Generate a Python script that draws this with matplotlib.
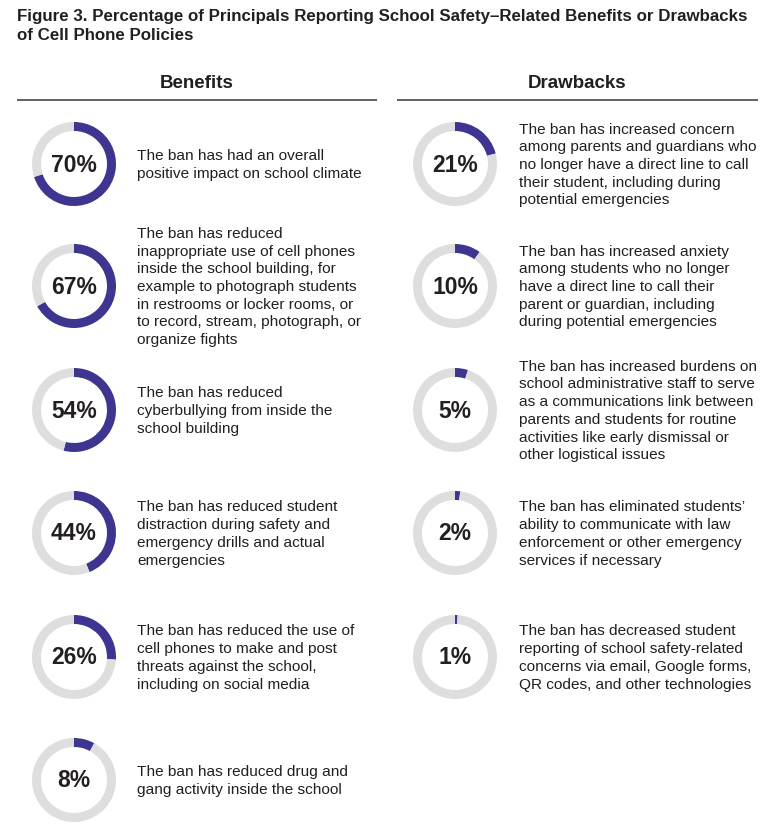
import matplotlib
matplotlib.use("Agg")
import matplotlib.pyplot as plt
from matplotlib import font_manager

W, H = 782, 828
PURPLE = "#3D3590"
GRAY = "#DEDEDE"
TXT = "#231F20"

benefit_values = [70, 67, 54, 44, 26, 8]
benefit_labels = [
    "The ban has had an overall\npositive impact on school climate",
    "The ban has reduced\ninappropriate use of cell phones\ninside the school building, for\nexample to photograph students\nin restrooms or locker rooms, or\nto record, stream, photograph, or\norganize fights",
    "The ban has reduced\ncyberbullying from inside the\nschool building",
    "The ban has reduced student\ndistraction during safety and\nemergency drills and actual\nemergencies",
    "The ban has reduced the use of\ncell phones to make and post\nthreats against the school,\nincluding on social media",
    "The ban has reduced drug and\ngang activity inside the school",
]
drawback_values = [21, 10, 5, 2, 1]
drawback_labels = [
    "The ban has increased concern\namong parents and guardians who\nno longer have a direct line to call\ntheir student, including during\npotential emergencies",
    "The ban has increased anxiety\namong students who no longer\nhave a direct line to call their\nparent or guardian, including\nduring potential emergencies",
    "The ban has increased burdens on\nschool administrative staff to serve\nas a communications link between\nparents and students for routine\nactivities like early dismissal or\nother logistical issues",
    "The ban has eliminated students\u2019\nability to communicate with law\nenforcement or other emergency\nservices if necessary",
    "The ban has decreased student\nreporting of school safety-related\nconcerns via email, Google forms,\nQR codes, and other technologies",
]

title_text = ("Figure 3. Percentage of Principals Reporting School Safety\u2013Related Benefits or Drawbacks\n"
              "of Cell Phone Policies")

names = {f.name for f in font_manager.fontManager.ttflist}
narrow = "Liberation Sans Narrow" if "Liberation Sans Narrow" in names else "Liberation Sans"
BODY = ["Liberation Sans", "DejaVu Sans"]

fig = plt.figure(figsize=(W / 100, H / 100), dpi=100)
ax = fig.add_axes([0, 0, 1, 1])

def Y(py):
    return H - py

# title, sized so the first line spans the same width as the reference
title = fig.text(17 / W, 1 - 9 / H, title_text, ha="left", va="top", fontsize=13.3,
                 fontweight="bold", family=[narrow, "DejaVu Sans"], color=TXT,
                 linespacing=1.32)
renderer = fig.canvas.get_renderer()
tw = title.get_window_extent(renderer).width
title.set_fontsize(13.3 * 731 / tw)

# headers
ax.text(197, Y(84), "Benefits", ha="center", va="center", fontsize=13.5,
        fontweight="bold", family=BODY, color=TXT)
ax.text(577, Y(84), "Drawbacks", ha="center", va="center", fontsize=13.5,
        fontweight="bold", family=BODY, color=TXT)
ax.plot([17, 377], [Y(101), Y(101)], color="#555555", lw=1.3, solid_capstyle="butt")
ax.plot([397, 758], [Y(101), Y(101)], color="#555555", lw=1.3, solid_capstyle="butt")

row_y = [165, 287, 411, 534, 658, 781]
R, WID = 42, 9

def donut(cx, cy, v, label, tx):
    ax.pie([v, 100 - v], colors=[PURPLE, GRAY], startangle=90, counterclock=False,
           radius=R, center=(cx, Y(cy)), wedgeprops=dict(width=WID, linewidth=0),
           frame=True)
    ax.text(cx, Y(cy), f"{v}%", ha="center", va="center", fontsize=16.5,
            fontweight="bold", family=BODY, color=TXT)
    ax.text(tx, Y(cy), label, ha="left", va="center", fontsize=11.1,
            family=BODY, color=TXT, linespacing=1.34)

for i, (v, lab) in enumerate(zip(benefit_values, benefit_labels)):
    donut(74, row_y[i], v, lab, 137)
for i, (v, lab) in enumerate(zip(drawback_values, drawback_labels)):
    donut(455, row_y[i], v, lab, 519)

ax.set_xlim(0, W)
ax.set_ylim(0, H)
ax.set_aspect("equal")
ax.axis("off")

fig.savefig("out.png", dpi=100, facecolor="white")
